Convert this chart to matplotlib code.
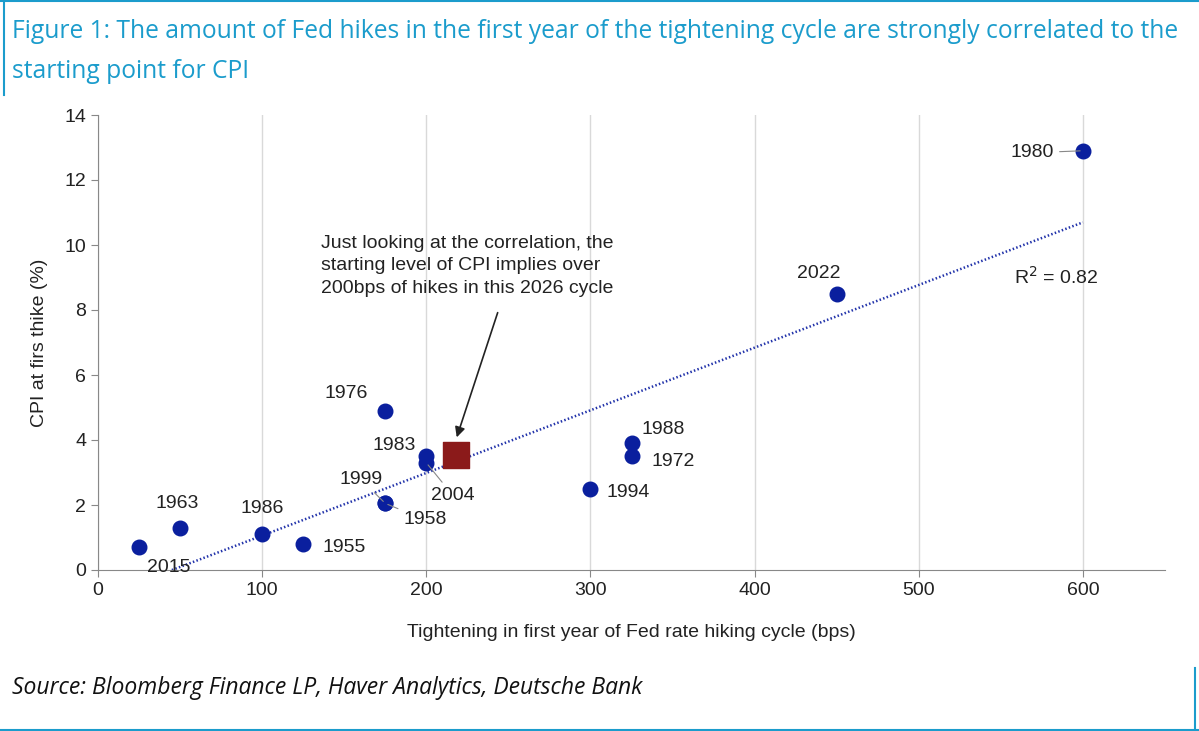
import matplotlib
matplotlib.use("Agg")
import matplotlib.pyplot as plt
import numpy as np

years = ["2015","1963","1986","1955","1976","1983","2004","1999","1958","1994","1988","1972","2022","1980"]
hikes = [25, 50, 100, 125, 175, 200, 200, 175, 175, 300, 325, 325, 450, 600]
cpi   = [0.7, 1.3, 1.1, 0.8, 4.9, 3.5, 3.3, 2.05, 2.05, 2.5, 3.9, 3.5, 8.5, 12.9]
cur_hike, cur_cpi = 218, 3.55
trend_slope, trend_icpt = 0.01928, -0.87
trend_x = [45, 600]

fig = plt.figure(figsize=(11.99, 7.31), dpi=100)
ax = fig.add_axes([98/1199, 1-570/731, (1165-98)/1199, (570-115)/731])
teal = "#1b9ccc"
fig.text(12/1199, 1-32/731, "Figure 1: The amount of Fed hikes in the first year of the tightening cycle are strongly correlated to the",
         color=teal, fontsize=17.7, va="center", family="Open Sans")
fig.text(12/1199, 1-72/731, "starting point for CPI", color=teal, fontsize=17.7, va="center", family="Open Sans")
fig.add_artist(plt.Line2D([4/1199, 4/1199], [1, 1-95/731], color=teal, lw=1.5))
fig.add_artist(plt.Line2D([0, 1], [1-1/731, 1-1/731], color=teal, lw=1.5))
fig.add_artist(plt.Line2D([1195/1199, 1195/1199], [0, 1-668/731], color=teal, lw=1.5))
fig.add_artist(plt.Line2D([0, 1], [1/731, 1/731], color=teal, lw=1.5))

tx = np.array(trend_x)
ax.plot(tx, trend_slope*tx + trend_icpt, color="#2233aa", lw=1.8, linestyle=(0, (0.6, 0.9)))
ax.scatter(hikes, cpi, s=110, color="#0a1f9e", zorder=3)
ax.scatter([cur_hike], [cur_cpi], s=330, marker="s", color="#8b1a1a", zorder=4)

fs = 14
lab = dict(fontsize=fs, color="#222222", family="Liberation Sans")
arr = dict(arrowstyle="-", color="#888", lw=0.8)
ax.annotate("2015", (25, 0.7), (30, -0.05), **lab)
ax.annotate("1963", (50, 1.3), (35, 1.9), **lab)
ax.annotate("1986", (100, 1.1), (87, 1.75), **lab)
ax.annotate("1955", (125, 0.8), (137, 0.55), **lab)
ax.annotate("1976", (175, 4.9), (138, 5.3), **lab)
ax.annotate("1983", (200, 3.5), (167, 3.7), **lab)
ax.annotate("2004", (200, 3.3), (203, 2.15), arrowprops=arr, **lab)
ax.annotate("1999", (175, 2.05), (147, 2.65), arrowprops=arr, **lab)
ax.annotate("1958", (175, 2.05), (186, 1.4), arrowprops=arr, **lab)
ax.annotate("1994", (300, 2.5), (310, 2.25), **lab)
ax.annotate("1988", (325, 3.9), (331, 4.2), **lab)
ax.annotate("1972", (325, 3.5), (337, 3.2), **lab)
ax.annotate("2022", (450, 8.5), (426, 9.0), **lab)
ax.annotate("1980", (600, 12.9), (556, 12.7), arrowprops=arr, **lab)
ax.text(558, 8.8, "R$^2$ = 0.82", **lab)
ax.text(136, 10.3, "Just looking at the correlation, the\nstarting level of CPI implies over\n200bps of hikes in this 2026 cycle",
        fontsize=fs, color="#222", family="Liberation Sans", linespacing=1.4, va="top")
ax.annotate("", (cur_hike, cur_cpi+0.45), (244, 8.0),
            arrowprops=dict(arrowstyle="-|>", color="#222", lw=1.2, mutation_scale=15))

ax.set_xlim(0, 650)
ax.set_ylim(0, 14)
ax.set_xticks(range(0, 700, 100))
ax.set_yticks(range(0, 16, 2))
ax.grid(axis="x", color="#d9d9d9", lw=1)
ax.set_axisbelow(True)
for s in ["top", "right"]:
    ax.spines[s].set_visible(False)
for s in ["left", "bottom"]:
    ax.spines[s].set_color("#888")
ax.tick_params(labelsize=14, colors="#222", length=5, color="#888")
for t in ax.get_xticklabels()+ax.get_yticklabels():
    t.set_family("Liberation Sans")
ax.set_xlabel("Tightening in first year of Fed rate hiking cycle (bps)", fontsize=14, family="Liberation Sans", labelpad=18, color="#222")
ax.set_ylabel("CPI at firs thike (%)", fontsize=14, family="Liberation Sans", labelpad=12, color="#222")
fig.text(12/1199, 1-688/731, "Source: Bloomberg Finance LP, Haver Analytics, Deutsche Bank",
         fontsize=16.5, style="italic", va="center", family="Open Sans", color="#111")
fig.savefig("out.png", dpi=100)
